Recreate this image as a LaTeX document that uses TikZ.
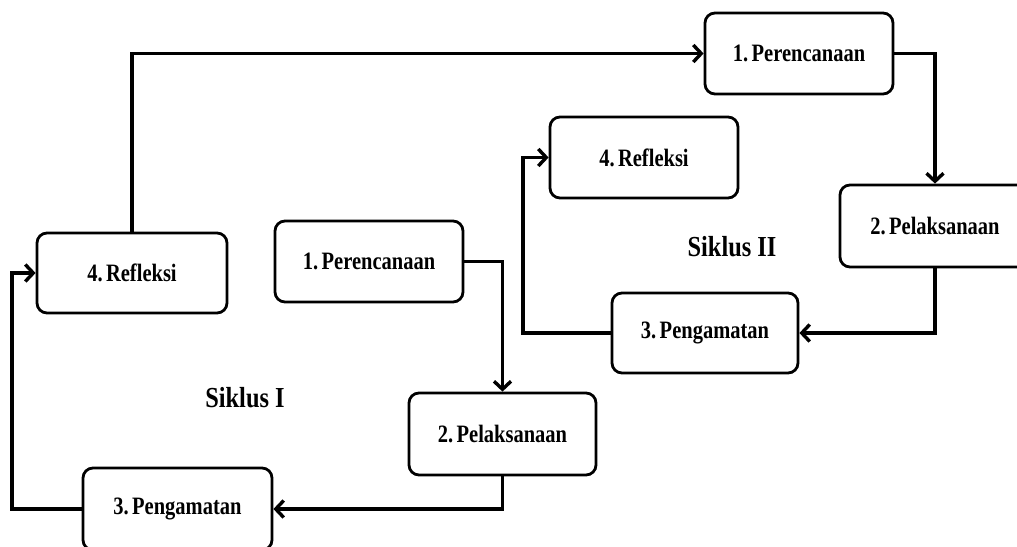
\documentclass[tikz,border=0pt]{standalone}
\usepackage{fontspec}
\setmainfont{Liberation Serif}
\usetikzlibrary{arrows.meta}
\tikzset{
  box/.style={draw, line width=2.8pt, rounded corners=10pt, inner sep=0pt, fill=white},
  conn/.style={line width=3.6pt, -{Straight Barb[length=8pt,width=17pt,line width=3.4pt]}},
}
\newcommand{\lbl}[1]{\fontsize{25}{28}\selectfont\bfseries\scalebox{0.82}[1]{#1}}
\newcommand{\cyc}[1]{\fontsize{29}{32}\selectfont\bfseries\scalebox{0.84}[1]{#1}}
\begin{document}
\begin{tikzpicture}[x=1pt,y=-1pt]
\useasboundingbox (0,0) rectangle (1017,546);
\begin{scope}
\clip (0,0) rectangle (1017,546);
% Siklus II
\node[box, minimum width=188pt, minimum height=81pt] (P2) at (799,53.5) {\lbl{1.\,Perencanaan}};
\node[box, minimum width=188pt, minimum height=81pt] (R2) at (644,157.5) {\lbl{4.\,Refleksi}};
\node[box, minimum width=190pt, minimum height=82pt] (L2) at (935,226) {\lbl{2.\,Pelaksanaan}};
\node[box, minimum width=186pt, minimum height=80pt] (O2) at (705,333) {\lbl{3.\,Pengamatan}};
\node (S2) at (732,247) {\cyc{Siklus II}};
% Siklus I
\node[box, minimum width=190pt, minimum height=80pt] (R1) at (132,273) {\lbl{4.\,Refleksi}};
\node[box, minimum width=188pt, minimum height=81pt] (P1) at (369,261.5) {\lbl{1.\,Perencanaan}};
\node[box, minimum width=187pt, minimum height=82pt] (L1) at (502.5,434) {\lbl{2.\,Pelaksanaan}};
\node[box, minimum width=189pt, minimum height=82pt] (O1) at (177.5,509) {\lbl{3.\,Pengamatan}};
\node (S1) at (245,398) {\cyc{Siklus I}};
% connectors
\coordinate (c2) at (523,333);
\coordinate (c1) at (12,509);
\draw[conn] (R1.north) |- (P2.west);
\draw[conn] (P2.east) -| (L2.north);
\draw[conn] (L2.south) |- (O2.east);
\draw[conn] (O2.west) -- (c2) |- (R2.west);
\draw[conn] (P1.east) -| (L1.north);
\draw[conn] (L1.south) |- (O1.east);
\draw[conn] (O1.west) -- (c1) |- (R1.west);
\end{scope}
\end{tikzpicture}
\end{document}
